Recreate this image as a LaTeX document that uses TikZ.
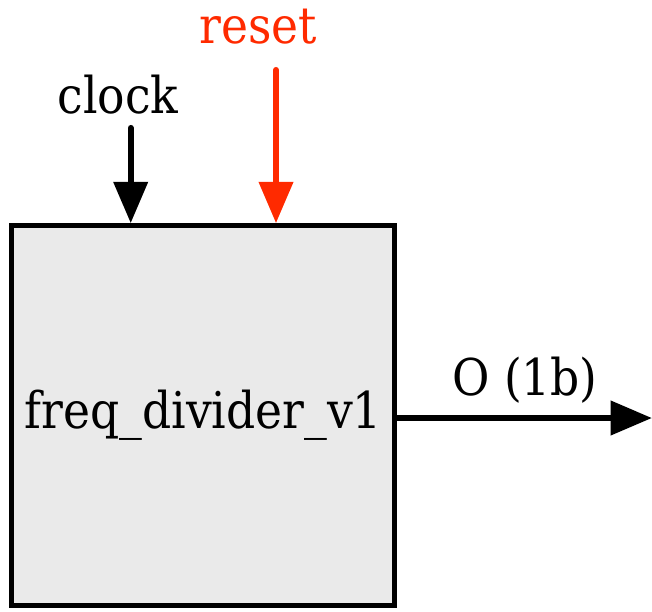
\documentclass[tikz,border=0pt]{standalone}
\usepackage{fontspec}
\setmainfont{DejaVu Serif Condensed}
\usetikzlibrary{arrows.meta}

\definecolor{resetred}{HTML}{FF2A00}
\definecolor{boxgray}{HTML}{EAEAEA}

\tikzset{
    block/.style={draw, line width=3.75pt, fill=boxgray, minimum width=287.5pt, minimum height=285pt, inner sep=0pt},
    sig/.style={line width=4.6pt, line cap=round, -{Triangle[width=25pt, length=31pt]}},
    siglabel/.style={font=\fontsize{38}{45}\selectfont, inner sep=0pt}
}

\begin{document}
\begin{tikzpicture}[x=0.75pt, y=-0.75pt]
    \useasboundingbox (0,0) rectangle (652,611);

    % the divider block
    \node[block, siglabel] (divider) at (203.3,415.7) {freq\_divider\_v1};

    % inputs
    \coordinate (clkin) at (130.7,128);
    \coordinate (rstin) at (276,70);
    \node[siglabel] (clklabel) at (118,95) {clock};
    \node[siglabel, text=resetred] (rstlabel) at (258,27) {reset};

    \draw[sig] (clkin) -- (clkin |- divider.north);
    \draw[sig, resetred] (rstin) -- (rstin |- divider.north);

    % output
    \coordinate (outend) at (652,418);
    \node[siglabel] (outlabel) at (525,380) {O (1b)};
    \draw[sig] (divider.east |- outend) -- (outend);

\end{tikzpicture}
\end{document}
